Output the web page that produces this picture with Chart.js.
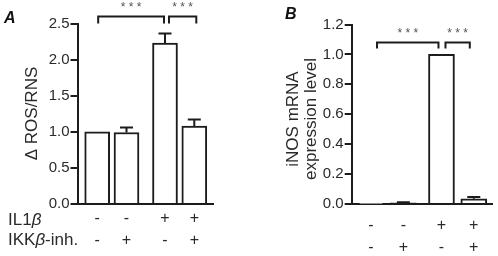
<!DOCTYPE html>
<html><head><meta charset="utf-8">
<script src="https://cdn.jsdelivr.net/npm/chart.js@4"></script>
<style>
html,body{margin:0;padding:0;background:#fff;}
#wrap{position:relative;width:498px;height:256px;overflow:hidden;}
#ca{position:absolute;left:0;top:0;}
#cb{position:absolute;left:250px;top:0;}
</style></head><body>
<div id="wrap"><canvas id="ca" width="250" height="256"></canvas><canvas id="cb" width="248" height="256"></canvas></div>
<script>
// ---- data ----
const conditions = ['control', 'IKKβ-inh.', 'IL1β', 'IL1β + IKKβ-inh.'];
const il1bRow = ['-', '-', '+', '+'];
const ikkRow  = ['-', '+', '-', '+'];
const rosMean = [1.00, 0.99, 2.23, 1.08];
const rosSem  = [0.00, 0.07, 0.13, 0.09];
const inosMean = [0.003, 0.007, 1.00, 0.035];
const inosSem  = [0.000, 0.004, 0.000, 0.012];
const yTicksA = [0, 0.5, 1.0, 1.5, 2.0, 2.5];
const yTicksB = [0, 0.2, 0.4, 0.6, 0.8, 1.0, 1.2];
const sigPairs = [[0, 2], [2, 3]];
const sigLabels = ['***', '***'];
const sigLevelA = 2.61;
const sigLevelB = 1.08;
const titleA = ['Δ ROS/RNS'];
const titleB = ['iNOS mRNA', 'expression level'];

// ---- styles ----
const F = '"Liberation Sans", Arial, Helvetica, sans-serif';
const TEXT = '#2a2a2a';
const LINE = '#1c1c1c';
const STAR = '#555';

function positions(n, gap) { const p = []; for (let i = 0; i < n; i++) p.push(i + (i >= 2 ? gap : 0)); return p; }
const posA = positions(conditions.length, 0.314);
const posB = positions(conditions.length, 0.18);

const errorBars = {
  id: 'errorBars',
  afterDatasetsDraw(chart, args, opts) {
    const ctx = chart.ctx, ys = chart.scales.y, meta = chart.getDatasetMeta(0);
    ctx.save();
    ctx.strokeStyle = LINE; ctx.lineWidth = 2;
    meta.data.forEach((el, i) => {
      const s = opts.sem[i]; if (!s) return;
      const m = opts.mean[i];
      const yTop = ys.getPixelForValue(m + s), yV = ys.getPixelForValue(m);
      ctx.beginPath();
      ctx.moveTo(el.x, yV); ctx.lineTo(el.x, yTop);
      ctx.moveTo(el.x - opts.cap / 2, yTop); ctx.lineTo(el.x + opts.cap / 2, yTop);
      ctx.stroke();
    });
    ctx.restore();
  }
};

const brackets = {
  id: 'brackets',
  afterDraw(chart, args, opts) {
    const ctx = chart.ctx, ys = chart.scales.y, meta = chart.getDatasetMeta(0);
    ctx.save();
    ctx.strokeStyle = LINE; ctx.lineWidth = 2;
    opts.pairs.forEach((pr, k) => {
      const x1 = meta.data[pr[0]].x + opts.inset[k][0];
      const x2 = meta.data[pr[1]].x + opts.inset[k][1];
      const y = Math.round(ys.getPixelForValue(opts.level)) + 0.5;
      ctx.beginPath();
      ctx.moveTo(x1, y + opts.tick); ctx.lineTo(x1, y); ctx.lineTo(x2, y); ctx.lineTo(x2, y + opts.tick);
      ctx.stroke();
      ctx.fillStyle = STAR; ctx.font = '12px ' + F;
      ctx.textAlign = 'center'; ctx.textBaseline = 'middle';
      ctx.fillText(opts.labels[k].split('').join(' '), (x1 + x2) / 2, y - 9);
    });
    // panel letter
    ctx.fillStyle = '#111'; ctx.font = 'italic bold 16px ' + F;
    ctx.textAlign = 'left'; ctx.textBaseline = 'middle';
    ctx.fillText(opts.letter, opts.letterX, opts.letterY);
    ctx.restore();
  }
};

const yTitle = {
  id: 'yTitle',
  afterDraw(chart, args, opts) {
    const ctx = chart.ctx;
    ctx.save();
    ctx.fillStyle = TEXT; ctx.font = '17px ' + F;
    ctx.textAlign = 'center'; ctx.textBaseline = 'middle';
    opts.lines.forEach((t, i) => {
      ctx.save();
      ctx.translate(opts.x + i * opts.lh, opts.y);
      ctx.rotate(-Math.PI / 2);
      ctx.fillText(t, 0, 0);
      ctx.restore();
    });
    ctx.restore();
  }
};

const rowLabels = {
  id: 'rowLabels',
  afterDraw(chart, args, opts) {
    if (!opts.rows) return;
    const ctx = chart.ctx;
    ctx.save();
    ctx.fillStyle = TEXT; ctx.textBaseline = 'middle'; ctx.textAlign = 'left';
    opts.rows.forEach(r => {
      let x = opts.x;
      r.parts.forEach(p => {
        ctx.font = (p.it ? 'italic ' : '') + '17px ' + F;
        ctx.fillText(p.t, x, r.y);
        x += ctx.measureText(p.t).width;
      });
    });
    ctx.restore();
  }
};

function makeChart(canvas, cfg) {
  return new Chart(canvas, {
    type: 'bar',
    data: {
      labels: conditions,
      datasets: [{
        data: cfg.mean.map((v, i) => ({ x: cfg.pos[i], y: v })),
        backgroundColor: '#ffffff', borderColor: LINE, borderWidth: 2,
        barThickness: cfg.barW, borderSkipped: 'bottom'
      }]
    },
    options: {
      responsive: false, animation: false, devicePixelRatio: 1,
      layout: { padding: cfg.padding },
      plugins: {
        legend: { display: false }, tooltip: { enabled: false },
        errorBars: { mean: cfg.mean, sem: cfg.sem, cap: 13 },
        brackets: { pairs: sigPairs, labels: sigLabels, level: cfg.sigLevel, inset: cfg.inset, tick: cfg.bTick,
                    letter: cfg.letter, letterX: cfg.letterX, letterY: cfg.letterY },
        yTitle: { lines: cfg.title, x: cfg.titleX, y: cfg.titleY, lh: 18 },
        rowLabels: { rows: cfg.rows, x: 8 }
      },
      scales: {
        x: {
          type: 'linear', min: cfg.xMin, max: cfg.xMax, offset: false,
          afterBuildTicks: s => { s.ticks = cfg.pos.map(v => ({ value: v })); },
          afterFit: s => { s.height = 52; },
          grid: { display: true, drawOnChartArea: false, drawTicks: false },
          border: { display: true, width: 2, color: LINE },
          ticks: { autoSkip: false, maxRotation: 0, minRotation: 0, padding: cfg.xPad, color: TEXT,
                   font: { size: 16, family: F, lineHeight: cfg.xLH },
                   callback: (v, i) => [il1bRow[i], ikkRow[i]] }
        },
        y: {
          min: 0, max: cfg.yTicks[cfg.yTicks.length - 1],
          afterBuildTicks: s => { s.ticks = cfg.yTicks.map(v => ({ value: v })); },
          afterFit: s => { s.width = cfg.yW; },
          grid: { display: true, drawOnChartArea: false, drawTicks: true, tickLength: 7, color: LINE, lineWidth: 2 },
          border: { display: true, width: 2, color: LINE },
          ticks: { padding: 1, color: TEXT, font: { size: 15, family: F }, callback: v => Number(v).toFixed(1) }
        }
      }
    },
    plugins: [errorBars, brackets, yTitle, rowLabels]
  });
}

makeChart(document.getElementById('ca'), {
  mean: rosMean, sem: rosSem, pos: posA, barW: 25,
  padding: { top: 23.5, right: 37, bottom: 0, left: 0 },
  xMin: -0.672, xMax: 3.952, xPad: 4.25, xLH: 21.5 / 16, yW: 77.5, yTicks: yTicksA,
  title: titleA, titleX: 32, titleY: 113.5,
  sigLevel: sigLevelA, inset: [[1, -1], [4, 2]], bTick: 7,
  letter: 'A', letterX: 4, letterY: 18.5,
  rows: [
    { y: 220.5, parts: [{ t: 'IL1' }, { t: 'β', it: true }] },
    { y: 240, parts: [{ t: 'IKK' }, { t: 'β', it: true }, { t: '-inh.' }] }
  ]
});

makeChart(document.getElementById('cb'), {
  mean: inosMean, sem: inosSem, pos: posB, barW: 26,
  padding: { top: 24.5, right: 5.3, bottom: 0, left: 0 },
  xMin: -0.598, xMax: 3.765, xPad: 10.25, xLH: 22.5 / 16, yW: 101.7, yTicks: yTicksB,
  title: titleB, titleX: 43, titleY: 119,
  sigLevel: sigLevelB, inset: [[6, -3], [4, -4]], bTick: 6,
  letter: 'B', letterX: 35, letterY: 14.5,
  rows: null
});
</script>
</body></html>
